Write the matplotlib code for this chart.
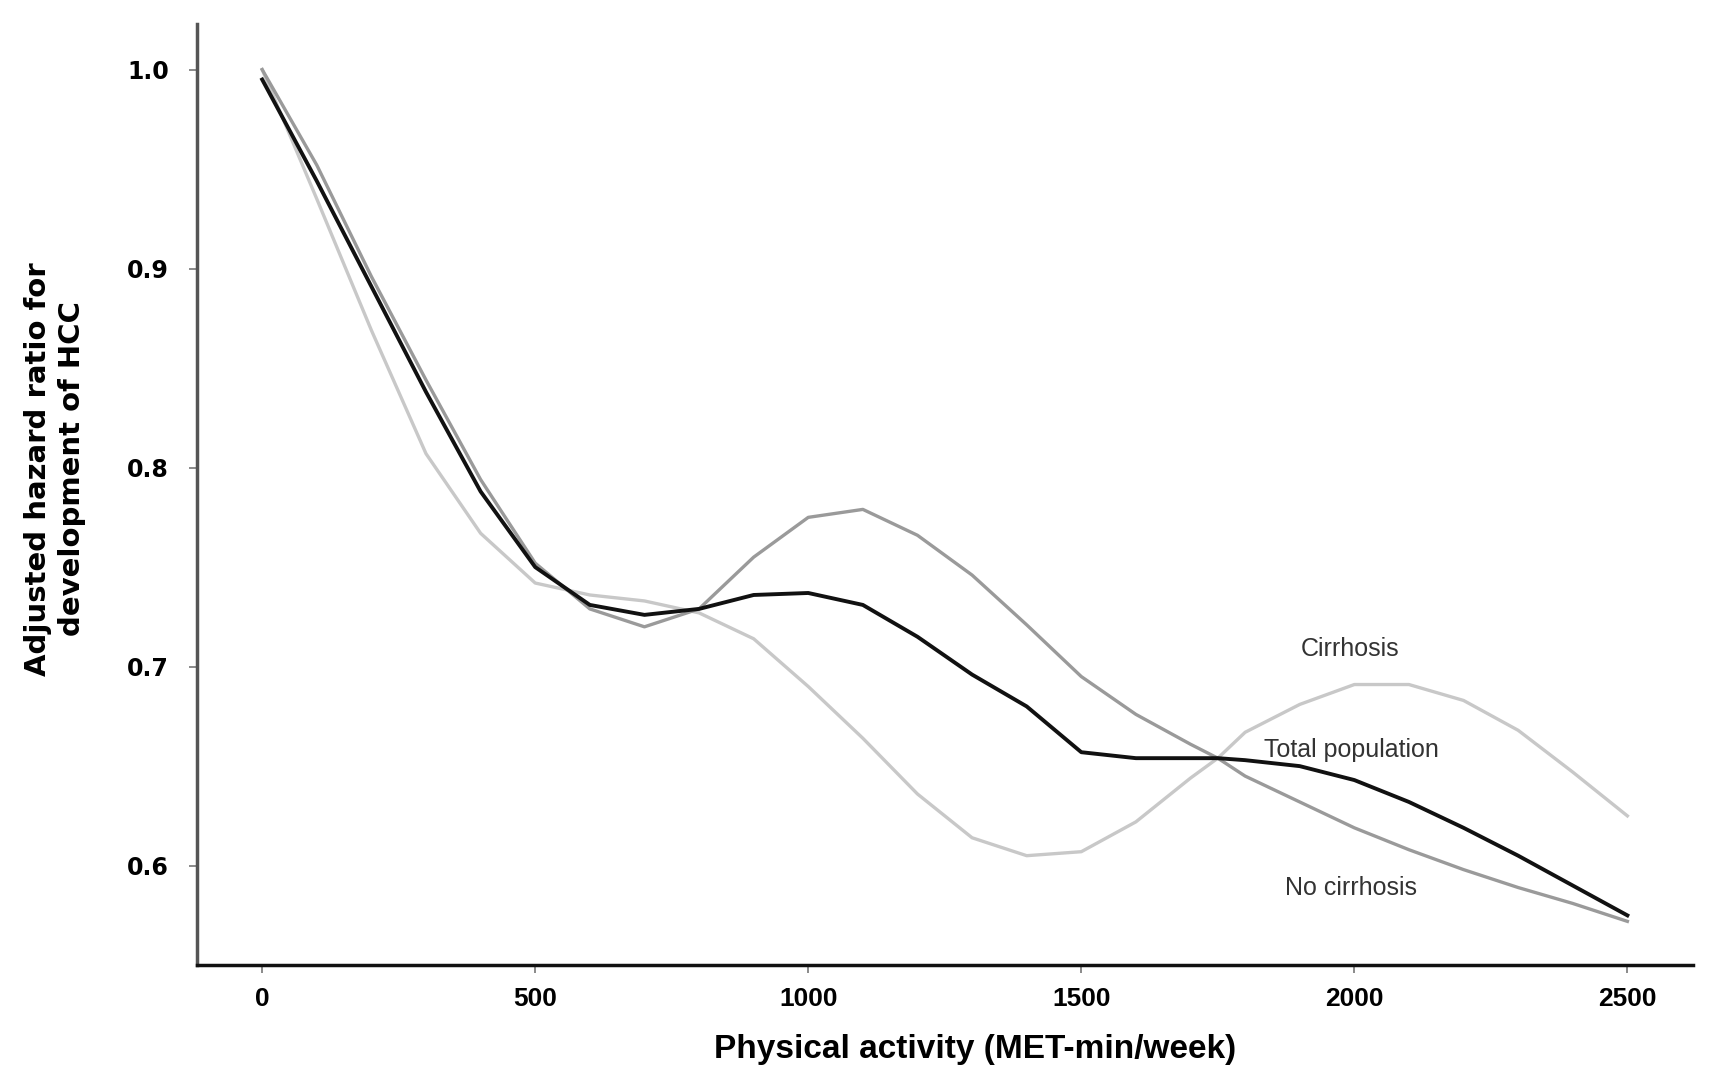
import matplotlib
matplotlib.use("Agg")
import matplotlib.pyplot as plt

# physical activity (MET-min/week)
met = [0, 100, 200, 300, 400, 500, 600, 700, 800, 900, 1000, 1100, 1200,
       1300, 1400, 1500, 1600, 1700, 1750, 1800, 1900, 2000, 2100, 2200,
       2300, 2400, 2500]

hr_total = [0.995, 0.944, 0.891, 0.838, 0.788, 0.750, 0.731, 0.726, 0.729,
            0.736, 0.737, 0.731, 0.715, 0.696, 0.680, 0.657, 0.654, 0.654,
            0.654, 0.653, 0.650, 0.643, 0.632, 0.619, 0.605, 0.590, 0.575]

hr_cirrhosis = [1.0, 0.935, 0.869, 0.807, 0.767, 0.742, 0.736, 0.733, 0.727,
                0.714, 0.690, 0.664, 0.636, 0.614, 0.605, 0.607, 0.622, 0.644,
                0.654, 0.667, 0.681, 0.691, 0.691, 0.683, 0.668, 0.647, 0.625]

hr_no_cirrhosis = [1.0, 0.952, 0.896, 0.844, 0.794, 0.752, 0.729, 0.720, 0.729,
                   0.755, 0.775, 0.779, 0.766, 0.746, 0.721, 0.695, 0.676, 0.661,
                   0.654, 0.645, 0.632, 0.619, 0.608, 0.598, 0.589, 0.581, 0.572]

x_ticks = [0, 500, 1000, 1500, 2000, 2500]
y_ticks = [0.6, 0.7, 0.8, 0.9, 1.0]

narrow = ["Liberation Sans Narrow", "Liberation Sans", "DejaVu Sans"]
plain = ["Liberation Sans", "DejaVu Sans"]

fig = plt.figure(figsize=(17.1, 10.82), dpi=100)
ax = fig.add_axes([0.115, 0.108, 0.875, 0.87])

ax.plot(met, hr_cirrhosis, color="#c8c8c8", lw=2.4)
ax.plot(met, hr_no_cirrhosis, color="#9a9a9a", lw=2.4)
ax.plot(met, hr_total, color="#111111", lw=2.8)

# curve labels
ax.text(1992, 0.709, "Cirrhosis", ha="center", va="center", fontsize=18,
        color="#333333", family=plain)
ax.text(1995, 0.658, "Total population", ha="center", va="center", fontsize=18,
        color="#333333", family=plain)
ax.text(1993, 0.589, "No cirrhosis", ha="center", va="center", fontsize=18,
        color="#333333", family=plain)

ax.set_xlim(-120, 2620)
ax.set_ylim(0.55, 1.023)
ax.set_xticks(x_ticks)
ax.set_yticks(y_ticks)
ax.set_xticklabels([str(t) for t in x_ticks], fontsize=19, fontweight="bold",
                   family=narrow)
ax.set_yticklabels([f"{t:.1f}" for t in y_ticks], fontsize=17, fontweight="bold",
                   family=["DejaVu Sans"])

for side in ["top", "right"]:
    ax.spines[side].set_visible(False)
ax.spines["left"].set_color("#555555")
ax.spines["left"].set_linewidth(2.5)
ax.spines["bottom"].set_color("#111111")
ax.spines["bottom"].set_linewidth(2.5)
ax.tick_params(axis="both", length=6, width=1.2, color="#777777")
ax.tick_params(axis="x", pad=10)
ax.tick_params(axis="y", pad=14)

ax.set_xlabel("Physical activity (MET-min/week)", fontsize=24, fontweight="bold",
              family=narrow)
ax.xaxis.set_label_coords(0.52, -0.073)
ax.set_ylabel("Adjusted hazard ratio for\ndevelopment of HCC", fontsize=21,
              fontweight="bold", family=["DejaVu Sans"], linespacing=1.25)
ax.yaxis.set_label_coords(-0.074, 0.527)

fig.savefig("out.png", dpi=100, facecolor="white")
